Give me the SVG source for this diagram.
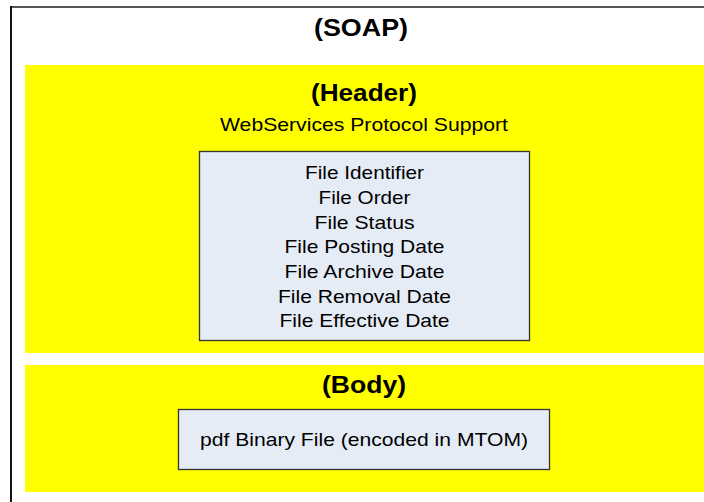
<svg xmlns="http://www.w3.org/2000/svg" width="704" height="502" viewBox="0 0 704 502">
<style>
.t{font-family:"Liberation Sans",Arial,sans-serif;fill:#000;text-anchor:middle}
.b{font-weight:bold;font-size:23px}
.n{font-size:19px}
.yel{fill:#FFFF00}
.box{fill:#E6ECF6;stroke:#333;stroke-width:1.3}
</style>
<rect width="704" height="502" fill="#fff"/>
<g id="soap">
<line x1="10" y1="7" x2="704" y2="7" stroke="#555" stroke-width="2"/>
<line x1="11" y1="6" x2="11" y2="502" stroke="#111" stroke-width="2"/>
<text class="t b" x="361" y="36" textLength="94" lengthAdjust="spacingAndGlyphs">(SOAP)</text>
</g>
<g id="header">
<rect class="yel" x="25" y="65" width="679" height="288"/>
<text class="t b" x="364" y="101" textLength="106" lengthAdjust="spacingAndGlyphs">(Header)</text>
<text class="t n" x="364" y="131" textLength="288" lengthAdjust="spacingAndGlyphs">WebServices Protocol Support</text>
</g>
<g id="fields">
<rect class="box" x="199.5" y="151.5" width="330" height="189"/>
<text class="t n" x="364.5" y="179.3" textLength="119" lengthAdjust="spacingAndGlyphs">File Identifier</text>
<text class="t n" x="364.5" y="204" textLength="92" lengthAdjust="spacingAndGlyphs">File Order</text>
<text class="t n" x="364.5" y="228.5" textLength="100" lengthAdjust="spacingAndGlyphs">File Status</text>
<text class="t n" x="364.5" y="253.3" textLength="160" lengthAdjust="spacingAndGlyphs">File Posting Date</text>
<text class="t n" x="364.5" y="278" textLength="160" lengthAdjust="spacingAndGlyphs">File Archive Date</text>
<text class="t n" x="364.5" y="302.7" textLength="173" lengthAdjust="spacingAndGlyphs">File Removal Date</text>
<text class="t n" x="364.5" y="327.3" textLength="170" lengthAdjust="spacingAndGlyphs">File Effective Date</text>
</g>
<g id="body">
<rect class="yel" x="25" y="365" width="679" height="127"/>
<text class="t b" x="364" y="393" textLength="84" lengthAdjust="spacingAndGlyphs">(Body)</text>
</g>
<g id="pdf">
<rect class="box" x="178.5" y="409.5" width="371" height="60"/>
<text class="t n" x="364" y="446" textLength="328" lengthAdjust="spacingAndGlyphs">pdf Binary File (encoded in MTOM)</text>
</g>
<g id="connectors"/>
</svg>
